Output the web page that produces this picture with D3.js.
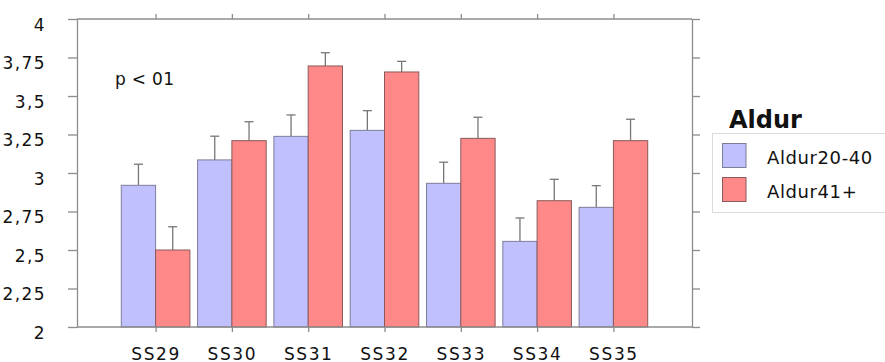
<!DOCTYPE html>
<html>
<head>
<meta charset="utf-8">
<script src="https://cdn.jsdelivr.net/npm/d3@7/dist/d3.min.js"></script>
<style>
  html, body { margin: 0; padding: 0; background: #fff; }
  svg { display: block; }
  text { font-family: "DejaVu Sans", sans-serif; fill: #111; }
</style>
</head>
<body>
<svg id="chart" width="885" height="362"></svg>
<script>
// Mean scores per item, two age groups, with upper standard-error bars
const categories = ["SS29", "SS30", "SS31", "SS32", "SS33", "SS34", "SS35"];
const seriesNames = ["Aldur20-40", "Aldur41+"];
const aldur2040 = [2.92, 3.085, 3.238, 3.277, 2.933, 2.556, 2.777];
const aldur2040Err = [0.137, 0.154, 0.139, 0.128, 0.137, 0.152, 0.141];
const aldur41 = [2.50, 3.21, 3.695, 3.656, 3.225, 2.82, 3.21];
const aldur41Err = [0.151, 0.123, 0.086, 0.069, 0.137, 0.139, 0.139];
const yTicks = [2, 2.25, 2.5, 2.75, 3, 3.25, 3.5, 3.75, 4];
const legendTitle = "Aldur";
const note = "p < 01";

const fills = ["#c0c0ff", "#ff8888"];
const strokes = ["#7d7d9a", "#8a5a5a"];
const axisColor = "#8c8c8c";

const svg = d3.select("#chart");
const plot = { left: 77, right: 692, top: 19, bottom: 327 };

const x = d3.scalePoint().domain(categories).range([plot.left, plot.right]).padding(1.03);
const barW = 34.3;
const xs = d3.scaleBand().domain(seriesNames).range([-barW, barW]).padding(0);
const y = d3.scaleLinear().domain([2, 4]).range([plot.bottom, plot.top]);

const fmt = d => String(d).replace(".", ",");

const rows = categories.map((c, i) => [
  { cat: c, s: seriesNames[0], v: aldur2040[i], e: aldur2040Err[i], k: 0 },
  { cat: c, s: seriesNames[1], v: aldur41[i], e: aldur41Err[i], k: 1 }
]).flat();

// Error bars (upper only), drawn behind the bars
const eg = svg.append("g");
rows.forEach(r => {
  const cx = x(r.cat) + xs(r.s) + xs.bandwidth() / 2;
  eg.append("line")
    .attr("x1", cx).attr("x2", cx)
    .attr("y1", y(r.v)).attr("y2", y(r.v + r.e))
    .attr("stroke", "#777").attr("stroke-width", 1.3);
  eg.append("line")
    .attr("x1", cx - 4.5).attr("x2", cx + 4.5)
    .attr("y1", y(r.v + r.e)).attr("y2", y(r.v + r.e))
    .attr("stroke", "#777").attr("stroke-width", 1.3);
});

// Bars
svg.append("g").selectAll("rect").data(rows).join("rect")
  .attr("x", d => x(d.cat) + xs(d.s))
  .attr("y", d => y(d.v))
  .attr("width", xs.bandwidth())
  .attr("height", d => y(2) - y(d.v))
  .attr("fill", d => fills[d.k])
  .attr("stroke", d => strokes[d.k])
  .attr("stroke-width", 1);

// Axes
function styleAxis(g) {
  g.selectAll("path, line").attr("stroke", axisColor).attr("stroke-width", 1.3);
}

const leftAxis = svg.append("g").attr("transform", `translate(${plot.left},0)`)
  .call(d3.axisLeft(y).tickValues(yTicks).tickSize(9).tickSizeOuter(0).tickFormat(fmt).tickPadding(22));
styleAxis(leftAxis);
leftAxis.selectAll("text")
  .attr("font-size", 17).attr("letter-spacing", 1.4)
  .attr("dy", "0.95em")
  .attr("y", -5)
  .style("fill", "#111");

const rightAxis = svg.append("g").attr("transform", `translate(${plot.right},0)`)
  .call(d3.axisRight(y).tickValues(yTicks).tickSize(8).tickSizeOuter(0).tickFormat(""));
styleAxis(rightAxis);

const topAxis = svg.append("g").attr("transform", `translate(0,${plot.top})`)
  .call(d3.axisTop(x).tickSize(5).tickSizeOuter(0).tickFormat(""));
styleAxis(topAxis);
topAxis.select(".domain").attr("d", `M${plot.left},0H${plot.right}`);

const bottomAxis = svg.append("g").attr("transform", `translate(0,${plot.bottom})`)
  .call(d3.axisBottom(x).tickSize(5).tickSizeOuter(0));
styleAxis(bottomAxis);
bottomAxis.select(".domain").attr("d", `M${plot.left},0H${plot.right}`);
bottomAxis.selectAll("text")
  .attr("font-size", 17).attr("letter-spacing", 1.6)
  .attr("y", 33).attr("dy", 0)
  .style("fill", "#111");

// Annotation
svg.append("text").attr("x", 115).attr("y", 85)
  .attr("font-size", 17).attr("letter-spacing", 0.3)
  .text(note);

// Legend
const lg = svg.append("g");
lg.append("text").attr("x", 729).attr("y", 128)
  .attr("font-size", 24).attr("font-weight", "bold")
  .text(legendTitle);
lg.append("rect").attr("x", 712.5).attr("y", 133.5).attr("width", 180).attr("height", 79)
  .attr("fill", "#fff").attr("stroke", "#dcdcdc").attr("stroke-width", 1);
seriesNames.forEach((s, i) => {
  const yy = 143.5 + i * 34;
  lg.append("rect").attr("x", 722.5).attr("y", yy).attr("width", 23.5).attr("height", 24)
    .attr("fill", fills[i]).attr("stroke", strokes[i]).attr("stroke-width", 1);
  lg.append("text").attr("x", 767).attr("y", yy + 20.5)
    .attr("font-size", 18).attr("letter-spacing", 0.6)
    .text(s);
});
</script>
</body>
</html>
